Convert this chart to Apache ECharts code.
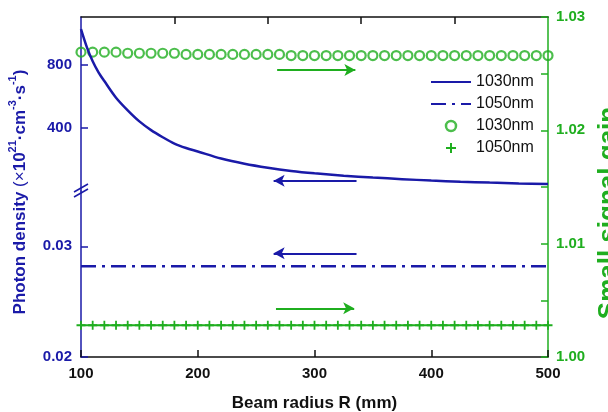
<!DOCTYPE html>
<html>
<head>
<meta charset="utf-8">
<title>Photon density and gain</title>
<script src="https://cdn.jsdelivr.net/npm/echarts@6/dist/echarts.min.js"></script>
<style>
html, body { margin: 0; padding: 0; background: #fff; }
#main { width: 608px; height: 412px; }
</style>
</head>
<body>
<div id="main"></div>
<script>
// beam radius R (mm) for the 1030nm photon density curve
const radius = [100, 105, 110, 115, 120, 130, 140, 150, 160, 170, 180, 190, 200, 220, 240, 260, 280, 300, 325, 350, 375, 400, 425, 450, 475, 500];
const density1030 = [1024, 910, 820, 750, 695, 590, 510, 440, 385, 340, 300, 272, 250, 205, 172, 147, 127, 112, 97, 85, 75, 66, 59, 53, 48, 44];
// 1050nm photon density is flat
const radius1050 = [100, 500];
const density1050 = [0.0282, 0.0282];
// gain points, one marker every 10 mm
const gainR = [100, 110, 120, 130, 140, 150, 160, 170, 180, 190, 200, 210, 220, 230, 240, 250, 260, 270, 280, 290, 300,
  310, 320, 330, 340, 350, 360, 370, 380, 390, 400, 410, 420, 430, 440, 450, 460, 470, 480, 490, 500];
const gain1030 = [1.0269, 1.0269, 1.0269, 1.0269, 1.0268, 1.0268, 1.0268, 1.0268, 1.0268, 1.0267, 1.0267, 1.0267, 1.0267, 1.0267, 1.0267, 1.0267, 1.0267, 1.0267, 1.0266, 1.0266, 1.0266,
  1.0266, 1.0266, 1.0266, 1.0266, 1.0266, 1.0266, 1.0266, 1.0266, 1.0266, 1.0266, 1.0266, 1.0266, 1.0266, 1.0266, 1.0266, 1.0266, 1.0266, 1.0266, 1.0266, 1.0266];
const gain1050 = [1.0028, 1.0028, 1.0028, 1.0028, 1.0028, 1.0028, 1.0028, 1.0028, 1.0028, 1.0028, 1.0028, 1.0028, 1.0028, 1.0028, 1.0028, 1.0028, 1.0028, 1.0028, 1.0028, 1.0028, 1.0028,
  1.0028, 1.0028, 1.0028, 1.0028, 1.0028, 1.0028, 1.0028, 1.0028, 1.0028, 1.0028, 1.0028, 1.0028, 1.0028, 1.0028, 1.0028, 1.0028, 1.0028, 1.0028, 1.0028, 1.0028];

// tick labels
const xTicks = [100, 200, 300, 400, 500];
const topTicks = [180, 260, 340, 420];
const upperTicks = [400, 800];
const lowerTicks = [0.02, 0.03];
const gainLabels = [1.00, 1.01, 1.02, 1.03];
const gainTicks = [1.00, 1.005, 1.01, 1.015, 1.02, 1.025, 1.03];

// direction arrows: [from R, to R, level]
const arrowGain1030 = [268, 335, 1.02532];
const arrowDens1030 = [336, 265, 65];
const arrowDens1050 = [336, 265, 0.02937];
const arrowGain1050 = [267, 334, 1.0043];

const blue = '#1a1aa8';
const green = '#1fae1f';
const font = 'Liberation Sans, Arial, sans-serif';
const plus = 'path://M4,0h2v4h4v2h-4v4h-2v-4h-4v-2h4z';

// break position on the left axis
const gl = 81, gr = 60, gt = 17, breakY = 191, gb = 357;

function arrowLine(a, color) {
  return {
    silent: true,
    symbol: ['none', 'arrow'],
    symbolSize: [9, 11],
    label: { show: false },
    lineStyle: { color: color, width: 2, type: 'solid' },
    data: [[{ coord: [a[0], a[2]] }, { coord: [a[1], a[2]] }]]
  };
}

const tickStyle = (color) => ({ show: true, inside: true, length: 7, lineStyle: { color: color, width: 1.5 } });
// legend entry showing the line only (hide the symbol drawn in the middle)
const lineOnly = { color: 'rgba(0,0,0,0)', borderWidth: 0, opacity: 0 };

const chart = echarts.init(document.getElementById('main'));
chart.setOption({
  animation: false,
  textStyle: { fontFamily: font },
  grid: [
    { left: gl, right: gr, top: gt, height: gb - gt, outerBoundsMode: 'none' },
    { left: gl, right: gr, top: gt, height: breakY - gt, outerBoundsMode: 'none' },
    { left: gl, right: gr, top: breakY, height: gb - breakY, outerBoundsMode: 'none' }
  ],
  legend: {
    left: 430, top: 74, orient: 'vertical', padding: 0,
    itemWidth: 40, itemHeight: 10, itemGap: 6,
    textStyle: { fontSize: 16, color: '#111', fontFamily: font },
    data: [
      { name: '1030nm', itemStyle: lineOnly },
      { name: '1050nm', itemStyle: lineOnly },
      { name: '1030nm\u200b', icon: 'circle', itemStyle: { color: 'rgba(0,0,0,0)', borderColor: green, borderWidth: 2.5 } },
      { name: '1050nm\u200b', icon: plus, itemStyle: { color: green } }
    ]
  },
  xAxis: [
    {
      gridIndex: 0, type: 'value', min: 100, max: 500, interval: 100,
      name: 'Beam radius R (mm)', nameLocation: 'middle', nameGap: 38,
      nameTextStyle: { fontSize: 17, fontWeight: 'bold', color: '#111', fontFamily: font },
      axisLine: { lineStyle: { color: '#111', width: 1.5 } },
      axisTick: Object.assign(tickStyle('#111'), { customValues: xTicks }),
      axisLabel: { customValues: xTicks, fontSize: 15, fontWeight: 'bold', color: '#111', margin: 9, fontFamily: font },
      splitLine: { show: false }
    },
    {
      gridIndex: 0, type: 'value', position: 'top', min: 100, max: 500,
      axisLine: { lineStyle: { color: '#111', width: 1.5 } },
      axisTick: Object.assign(tickStyle('#111'), { customValues: topTicks }),
      axisLabel: { show: false },
      splitLine: { show: false }
    },
    { gridIndex: 1, type: 'value', min: 100, max: 500, show: false },
    { gridIndex: 2, type: 'value', min: 100, max: 500, show: false }
  ],
  yAxis: [
    {
      gridIndex: 0, type: 'value', position: 'right', min: 1.00, max: 1.03,
      name: 'Small signal gain', nameLocation: 'middle', nameGap: 43,
      nameTextStyle: { fontSize: 26, fontWeight: 'bold', color: green, fontFamily: font, padding: [0, 52, 0, 0] },
      axisLine: { show: true, lineStyle: { color: green, width: 1.5 } },
      axisTick: Object.assign(tickStyle(green), { customValues: gainTicks }),
      axisLabel: { customValues: gainLabels, fontSize: 15, fontWeight: 'bold', color: green, margin: 8,
        fontFamily: font, formatter: v => v.toFixed(2) },
      splitLine: { show: false }
    },
    {
      gridIndex: 0, type: 'value', position: 'left', min: 0, max: 1,
      name: '{b|Photon density }{r|(\u00d7}{b|10}{s|21}{b|\u00b7cm}{s|-3}{b|\u00b7s}{s|-1}{b|)}',
      nameLocation: 'middle', nameGap: 52,
      nameTextStyle: {
        color: blue, fontFamily: font, padding: [0, 10, 0, 0],
        rich: {
          b: { fontSize: 17, fontWeight: 'bold', color: blue, lineHeight: 22, verticalAlign: 'bottom', fontFamily: font },
          r: { fontSize: 17, fontWeight: 'normal', color: blue, lineHeight: 22, verticalAlign: 'bottom', fontFamily: font },
          s: { fontSize: 11, fontWeight: 'bold', color: blue, lineHeight: 11, verticalAlign: 'top', fontFamily: font }
        }
      },
      axisLine: { show: false }, axisTick: { show: false }, axisLabel: { show: false }, splitLine: { show: false }
    },
    {
      gridIndex: 1, type: 'value', min: 0, max: 1100,
      axisLine: { show: true, lineStyle: { color: blue, width: 1.5 } },
      axisTick: Object.assign(tickStyle(blue), { customValues: upperTicks }),
      axisLabel: { customValues: upperTicks, fontSize: 15, fontWeight: 'bold', color: blue, margin: 9, fontFamily: font },
      splitLine: { show: false }
    },
    {
      gridIndex: 2, type: 'value', min: 0.02, max: 0.035,
      axisLine: { show: true, lineStyle: { color: blue, width: 1.5 } },
      axisTick: Object.assign(tickStyle(blue), { customValues: lowerTicks }),
      axisLabel: { customValues: lowerTicks, fontSize: 15, fontWeight: 'bold', color: blue, margin: 9,
        fontFamily: font, formatter: v => v.toFixed(2) },
      splitLine: { show: false }
    }
  ],
  series: [
    {
      name: '1030nm\u200b', type: 'scatter', xAxisIndex: 0, yAxisIndex: 0,
      data: gainR.map((r, i) => [r, gain1030[i]]),
      symbol: 'circle', symbolSize: 9,
      itemStyle: { color: 'rgba(0,0,0,0)', borderColor: green, borderWidth: 2.2 },
      markLine: arrowLine(arrowGain1030, green)
    },
    {
      name: '1050nm\u200b', type: 'line', xAxisIndex: 0, yAxisIndex: 0,
      data: gainR.map((r, i) => [r, gain1050[i]]),
      symbol: plus, symbolSize: 9, showAllSymbol: true,
      itemStyle: { color: green },
      lineStyle: { color: green, width: 2 },
      markLine: arrowLine(arrowGain1050, green)
    },
    {
      name: '1030nm', type: 'line', xAxisIndex: 2, yAxisIndex: 2,
      data: radius.map((r, i) => [r, density1030[i]]),
      symbol: 'none', smooth: 0.3,
      itemStyle: { color: blue },
      lineStyle: { color: blue, width: 2.5 },
      markLine: arrowLine(arrowDens1030, blue)
    },
    {
      name: '1050nm', type: 'line', xAxisIndex: 3, yAxisIndex: 3,
      data: radius1050.map((r, i) => [r, density1050[i]]),
      symbol: 'none',
      itemStyle: { color: blue },
      lineStyle: { color: blue, width: 2.5, type: [15, 6, 3, 6] },
      markLine: arrowLine(arrowDens1050, blue)
    }
  ],
  graphic: [
    { type: 'line', z: 100, shape: { x1: gl - 7, y1: breakY + 1, x2: gl + 7, y2: breakY - 7 }, style: { stroke: blue, lineWidth: 1.5 } },
    { type: 'line', z: 100, shape: { x1: gl - 7, y1: breakY + 6, x2: gl + 7, y2: breakY - 2 }, style: { stroke: blue, lineWidth: 1.5 } }
  ]
});
</script>
</body>
</html>
